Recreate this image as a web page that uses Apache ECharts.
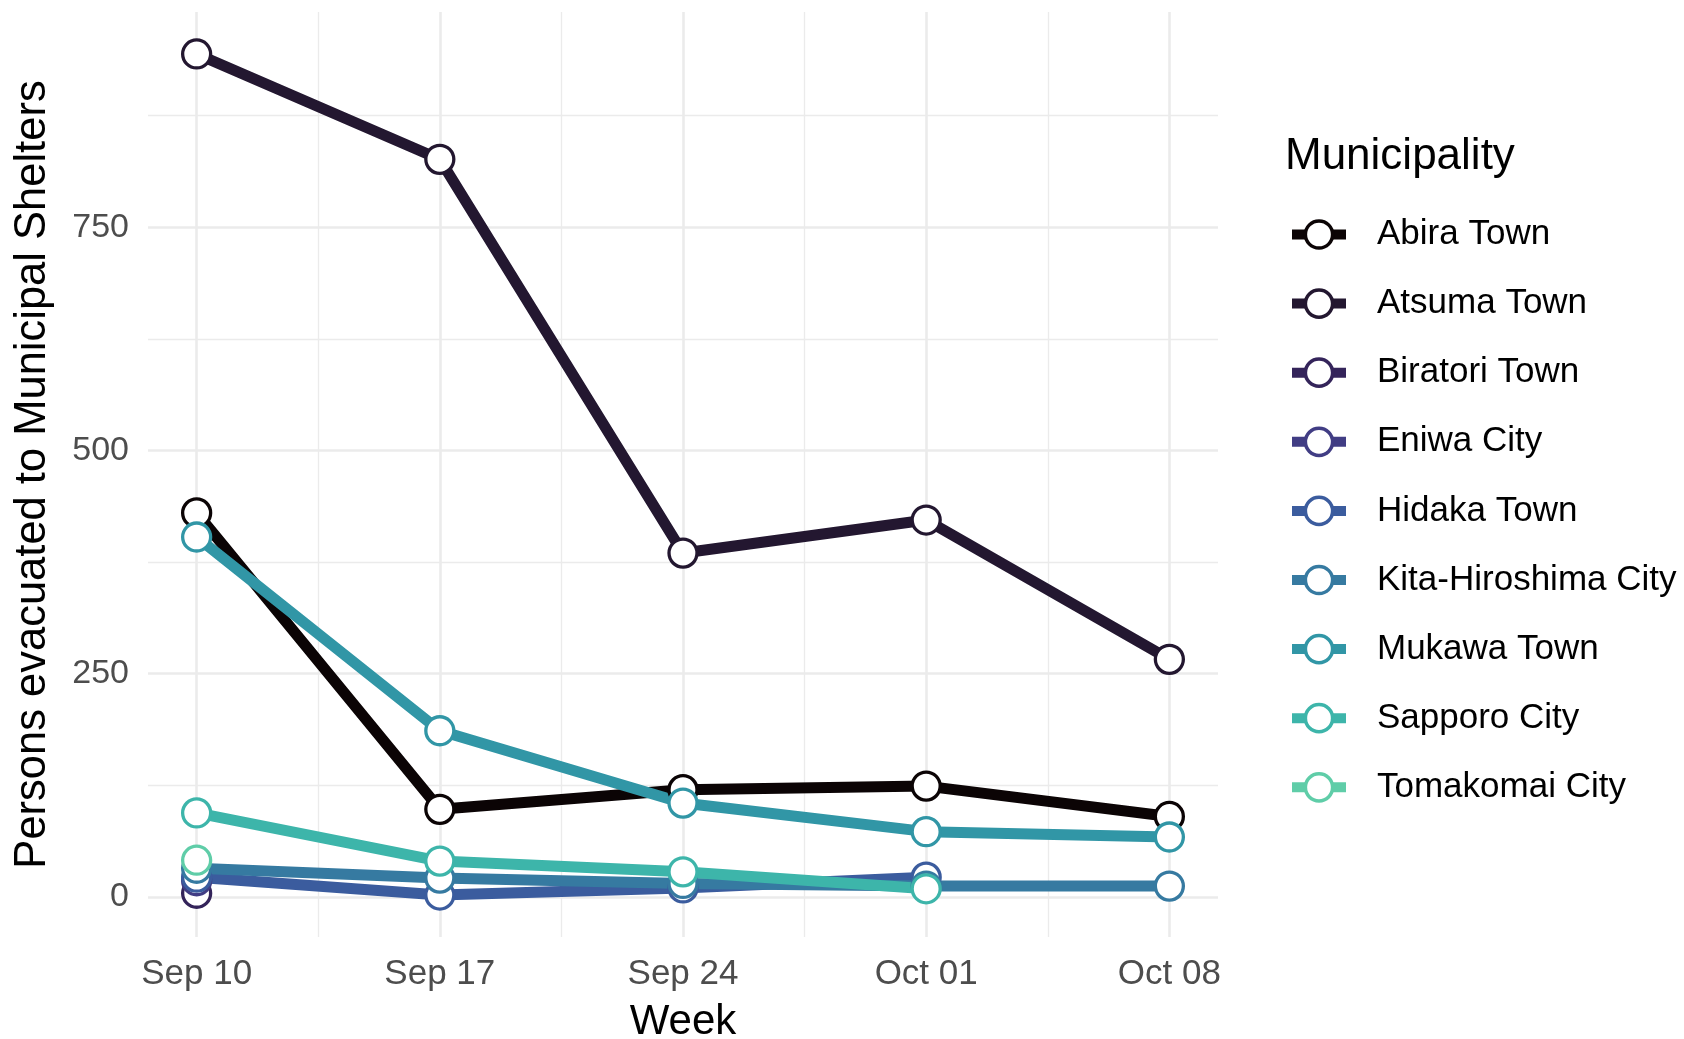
<!DOCTYPE html>
<html>
<head>
<meta charset="utf-8">
<script src="https://cdn.jsdelivr.net/npm/echarts@6/dist/echarts.min.js"></script>
<style>
html, body { margin: 0; padding: 0; background: #fff; }
#main { width: 1684px; height: 1039px; }
</style>
</head>
<body>
<div id="main"></div>
<script>
// week labels (x positions 0..4)
var weeks = ['Sep 10', 'Sep 17', 'Sep 24', 'Oct 01', 'Oct 08'];
var yTicks = [0, 250, 500, 750];
var yMinorTicks = [125, 375, 625, 875];

var municipalities = ['Abira Town', 'Atsuma Town', 'Biratori Town', 'Eniwa City', 'Hidaka Town',
    'Kita-Hiroshima City', 'Mukawa Town', 'Sapporo City', 'Tomakomai City'];
var colors = ['#0B0405', '#231730', '#34245A', '#413D84', '#3B5C9E',
    '#367AA1', '#3196A6', '#3DB5AA', '#5FCDA8'];

// persons evacuated, per week (null = no report)
var abira     = [430, 98, 120, 124, 90];
var atsuma    = [944, 826, 385, 422, 266];
var biratori  = [4, null, null, null, null];
var eniwa     = [18, null, null, null, null];
var hidaka    = [22, 2, 10, 22, null];
var kita      = [32, 21, 15, 12, 12];
var mukawa    = [403, 186, 105, 73, 67];
var sapporo   = [94, 40, 28, 9, null];
var tomakomai = [41, null, null, null, null];

var values = [abira, atsuma, biratori, eniwa, hidaka, kita, mukawa, sapporo, tomakomai];

var fontName = 'Liberation Sans, Arial, sans-serif';

function toPairs(arr) {
    var out = [];
    for (var i = 0; i < arr.length; i++) {
        out.push([i, arr[i]]);
    }
    return out;
}

var series = [];
var legendData = [];
// lines first, then points on top (like ggplot)
for (var i = 0; i < municipalities.length; i++) {
    series.push({
        name: municipalities[i],
        type: 'line',
        data: toPairs(values[i]),
        color: colors[i],
        symbol: 'circle',
        showSymbol: false,
        z: 2,
        lineStyle: { width: 11, color: colors[i], join: 'round' },
        itemStyle: { color: '#fff', borderColor: colors[i], borderWidth: 3 },
        emphasis: { disabled: true },
        animation: false
    });
    legendData.push({
        name: municipalities[i],
        itemStyle: { color: '#fff', borderColor: colors[i], borderWidth: 3.5 },
        lineStyle: { color: colors[i], width: 10 }
    });
}
for (var i = 0; i < municipalities.length; i++) {
    series.push({
        name: municipalities[i],
        type: 'scatter',
        data: toPairs(values[i]).filter(function (d) { return d[1] != null; }),
        symbol: 'circle',
        symbolSize: 28,
        z: 3,
        itemStyle: { color: '#fff', borderColor: colors[i], borderWidth: 3.3, opacity: 1 },
        emphasis: { disabled: true },
        animation: false
    });
}

var gridColor = '#EBEBEB';

var option = {
    backgroundColor: '#fff',
    animation: false,
    title: {
        text: 'Municipality',
        left: 1280,
        top: 130,
        textStyle: { fontFamily: fontName, fontSize: 44, fontWeight: 'normal', color: '#000' }
    },
    legend: {
        orient: 'vertical',
        left: 1282,
        top: 212,
        itemWidth: 54,
        itemHeight: 34,
        itemGap: 34.1,
        data: legendData,
        selectedMode: false,
        textStyle: { fontFamily: fontName, fontSize: 35, color: '#000', lineHeight: 34, padding: [0, 0, 0, 26] }
    },
    grid: { left: 148, right: 466, top: 12, bottom: 102, outerBoundsMode: 'none' },
    xAxis: [{
        type: 'value',
        min: -0.2,
        max: 4.2,
        name: 'Week',
        nameLocation: 'middle',
        nameGap: 64,
        nameTextStyle: { fontFamily: fontName, fontSize: 42, color: '#000' },
        axisLine: { show: false },
        axisTick: { show: false, customValues: [0, 1, 2, 3, 4] },
        axisLabel: {
            customValues: [0, 1, 2, 3, 4],
            margin: 20,
            fontFamily: fontName, fontSize: 35, color: '#4D4D4D',
            formatter: function (v) { return weeks[Math.round(v)]; }
        },
        splitLine: { show: true, lineStyle: { color: gridColor, width: 2.6 } }
    }, {
        type: 'value',
        min: -0.2,
        max: 4.2,
        position: 'bottom',
        axisLine: { show: false },
        axisTick: { show: false, customValues: [0.5, 1.5, 2.5, 3.5] },
        axisLabel: { show: false, customValues: [0.5, 1.5, 2.5, 3.5] },
        splitLine: { show: true, lineStyle: { color: gridColor, width: 1.3 } }
    }],
    yAxis: [{
        type: 'value',
        min: -45,
        max: 991,
        name: 'Persons evacuated to Municipal Shelters',
        nameLocation: 'middle',
        nameRotate: 90,
        nameGap: 93,
        nameTextStyle: { fontFamily: fontName, fontSize: 43.5, color: '#000' },
        axisLine: { show: false },
        axisTick: { show: false, customValues: yTicks },
        axisLabel: { customValues: yTicks, margin: 19, fontFamily: fontName, fontSize: 34, color: '#4D4D4D' },
        splitLine: { show: true, lineStyle: { color: gridColor, width: 2.6 } }
    }, {
        type: 'value',
        min: -45,
        max: 991,
        position: 'left',
        axisLine: { show: false },
        axisTick: { show: false, customValues: yMinorTicks },
        axisLabel: { show: false, customValues: yMinorTicks },
        splitLine: { show: true, lineStyle: { color: gridColor, width: 1.3 } }
    }],
    series: series
};

chart = echarts.init(document.getElementById('main'));
chart.setOption(option);
</script>
</body>
</html>
